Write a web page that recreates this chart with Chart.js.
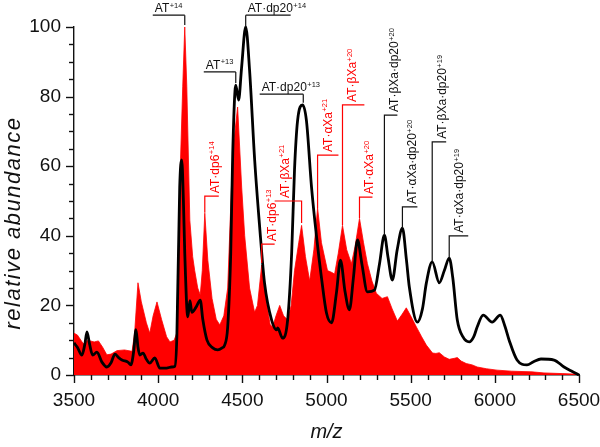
<!DOCTYPE html>
<html><head><meta charset="utf-8">
<script src="https://cdn.jsdelivr.net/npm/chart.js@4/dist/chart.umd.min.js"></script>
<style>html,body{margin:0;padding:0;background:#fff}#wrap{width:600px;height:447px;position:relative}</style>
</head><body><div id="wrap"><canvas id="c" width="600" height="447"></canvas></div>
<script>
// ---- data (m/z, relative abundance) ----
const redMz = [3500,3520,3555,3580,3620,3645,3670,3695,3720,3755,3800,3845,3860,3880,3900,3930,3950,3970,3993,4020,4050,4070,4095,4110,4128,4146,4158,4170,4188,4205,4217,4235,4250,4262,4277,4295,4320,4345,4366,4390,4413,4443,4472,4496,4514,4543,4573,4590,4615,4640,4665,4680,4700,4722,4745,4770,4790,4810,4835,4852,4875,4900,4925,4947,4970,5006,5030,5048,5070,5095,5120,5148,5170,5196,5220,5243,5270,5296,5330,5362,5390,5421,5450,5474,5500,5534,5565,5593,5630,5650,5670,5700,5729,5760,5777,5800,5830,5866,5895,5950,6013,6100,6221,6292,6400,6500];
const redAbundance = [12,11.5,9,10,9.5,9.8,8,5.8,6,7,7.2,6.8,12,26.5,21,15,12,17,21,16,11,9.5,10,12,54,83,100,83,44.5,34,30,25,23,30,46.5,33,22,16,14.4,17,25,64,77,54,40,25,18,20,31.6,22,14.5,13.8,17,20,17,15.8,20,30,38,43,34,27,36,48,38,30,29.5,29,35,43,36,32,37,45,38,32,27,23.5,22,22.5,19,15.5,17.5,19.3,17,13.8,11,8.6,6.3,6.2,6.4,5.2,4.5,4.8,5,4,3.3,2.9,2.3,1.8,1.4,1.1,0.9,0.6,0.4,0.2];
const blackMz = [3500,3520,3547,3565,3577,3592,3611,3636,3666,3695,3720,3743,3765,3785,3820,3838,3855,3868,3880,3891,3910,3930,3950,3980,4010,4050,4080,4099,4111,4128,4140,4150,4158,4176,4189,4200,4225,4250,4265,4290,4324,4354,4380,4395,4413,4431,4443,4461,4478,4495,4520,4543,4573,4603,4632,4674,4704,4710,4739,4769,4793,4810,4828,4858,4881,4911,4941,4970,5000,5030,5059,5083,5110,5136,5160,5184,5210,5243,5285,5315,5344,5365,5391,5420,5451,5475,5492,5540,5570,5593,5628,5670,5700,5729,5750,5777,5810,5848,5875,5895,5931,5984,6032,6060,6085,6132,6191,6230,6274,6352,6411,6460,6500];
const blackAbundance = [9.2,8,5.7,9,12.4,9,5.7,6.6,3.7,2.3,3.5,6,5,4.3,3.7,2.9,7,13,8,5.7,6.3,4.5,3.4,4.9,2,2,2.3,2.5,11,54,61.8,50,35,16.7,21.4,18,19.5,21.5,16,10,7.8,7.2,7.8,8.6,13.8,35,63.8,83.3,79,88,100,87.6,62,42.5,26.4,15.8,13,13.5,10.6,15.8,35,59,73,77.6,73,54,39.7,28,17.8,15,23.6,33,24,18.7,28,38.8,32,23.9,24.4,32,40.2,34,27.3,36,42.2,33,25.3,15.2,19,26.4,32.5,26.5,30,33.6,28,15.8,11,9.5,11,13.8,17.2,15.2,17.2,14,10,4.3,2.9,3.8,4.6,4.3,2.3,1,0];
const xTickLabels = [3500,4000,4500,5000,5500,6000,6500];
const yTickLabels = [0,20,40,60,80,100];

// ---- peak annotations (data coordinates) ----
const RED = '#ff0000', INK = '#111111';
const rotatedLabels = [
  {text:'AT·dp6', sup:'+14', color:RED, peak:4277, tip:46.6, level:51.4, end:4360},
  {text:'AT·dp6', sup:'+13', color:RED, peak:4615, tip:32.2, level:37.6, end:4692},
  {text:'AT·βXa', sup:'+21', color:RED, peak:4852, tip:43.7, level:50.0, end:4692},
  {text:'AT·αXa', sup:'+21', color:RED, peak:4947, tip:48.0, level:63.2, end:5071},
  {text:'AT·βXa', sup:'+20', color:RED, peak:5095, tip:43.1, level:77.6, end:5225},
  {text:'AT·αXa', sup:'+20', color:RED, peak:5196, tip:45.1, level:51.1, end:5273},
  {text:'AT·βXa·dp20', sup:'+20', color:INK, peak:5344, tip:40.2, level:74.7, end:5421},
  {text:'AT·αXa·dp20', sup:'+20', color:INK, peak:5451, tip:42.2, level:48.3, end:5540},
  {text:'AT·βXa·dp20', sup:'+19', color:INK, peak:5628, tip:32.5, level:67.0, end:5711},
  {text:'AT·αXa·dp20', sup:'+19', color:INK, peak:5729, tip:33.6, level:40.0, end:5842}
];
const topLabels = [
  {text:'AT', sup:'+14', x1:3968, x2:4158, level:103.4, tipX:4158, tip:100.6},
  {text:'AT·dp20', sup:'+14', x1:4520, x2:4787, level:103.4, tipX:4520, tip:100.0},
  {text:'AT', sup:'+13', x1:4271, x2:4461, level:87.1, tipX:4461, tip:83.9},
  {text:'AT·dp20', sup:'+13', x1:4603, x2:4862, level:80.7, tipX:4862, tip:78.2}
];

const FONT = '"Liberation Sans", Arial, Helvetica, sans-serif';

function drawSupText(ctx, main, sup, x, y, color) {
  ctx.fillStyle = color;
  ctx.textAlign = 'left';
  ctx.textBaseline = 'alphabetic';
  ctx.font = '12px ' + FONT;
  ctx.fillText(main, x, y);
  const w = ctx.measureText(main).width;
  ctx.font = '7.5px ' + FONT;
  ctx.fillText(sup, x + w + 0.5, y - 4.5);
}

const axisPlugin = {
  id: 'axisDecor',
  afterDraw(chart) {
    const ctx = chart.ctx, xs = chart.scales.x, ys = chart.scales.y;
    const bottom = ys.getPixelForValue(0), left = xs.getPixelForValue(3500);
    ctx.save();
    ctx.strokeStyle = INK; ctx.lineWidth = 1.4;
    for (let v = 3500; v <= 6500; v += 100) {
      const p = Math.round(xs.getPixelForValue(v)) + 0.5;
      const len = (v % 500 === 0) ? 8 : 5;
      ctx.beginPath(); ctx.moveTo(p, bottom); ctx.lineTo(p, bottom + len); ctx.stroke();
    }
    for (let v = 0; v <= 100; v += 5) {
      const p = Math.round(ys.getPixelForValue(v)) + 0.5;
      const len = (v % 20 === 0) ? 8 : 5;
      ctx.beginPath(); ctx.moveTo(left, p); ctx.lineTo(left - len, p); ctx.stroke();
    }
    // axis titles
    ctx.fillStyle = INK;
    ctx.textAlign = 'center'; ctx.textBaseline = 'middle';
    ctx.font = 'italic 20px ' + FONT;
    ctx.fillText('m/z', (xs.left + xs.right) / 2, 432);
    ctx.save();
    ctx.font = 'italic 22px ' + FONT;
    try { ctx.letterSpacing = '1.5px'; } catch (e) {}
    ctx.translate(14, 223); ctx.rotate(-Math.PI / 2);
    ctx.fillText('relative abundance', 0, 0);
    ctx.restore();

    // annotations
    ctx.lineWidth = 1.2;
    rotatedLabels.forEach(a => {
      const px = xs.getPixelForValue(a.peak), pe = xs.getPixelForValue(a.end);
      const pt = ys.getPixelForValue(a.tip), pl = ys.getPixelForValue(a.level);
      ctx.strokeStyle = a.color;
      ctx.beginPath(); ctx.moveTo(px, pt); ctx.lineTo(px, pl); ctx.lineTo(pe, pl); ctx.stroke();
      const lft = Math.min(px, pe);
      ctx.save();
      ctx.translate(lft + 14, pl - 3); ctx.rotate(-Math.PI / 2);
      drawSupText(ctx, a.text, a.sup, 0, 0, a.color);
      ctx.restore();
    });
    topLabels.forEach(a => {
      const p1 = xs.getPixelForValue(a.x1), p2 = xs.getPixelForValue(a.x2);
      const pl = ys.getPixelForValue(a.level), pt = ys.getPixelForValue(a.tip);
      const tx = xs.getPixelForValue(a.tipX);
      ctx.strokeStyle = INK;
      ctx.beginPath(); ctx.moveTo(p1, pl); ctx.lineTo(p2, pl); ctx.stroke();
      ctx.beginPath(); ctx.moveTo(tx, pl); ctx.lineTo(tx, pt); ctx.stroke();
      drawSupText(ctx, a.text, a.sup, p1 + 2, pl - 3, INK);
    });
    ctx.restore();
  }
};

new Chart(document.getElementById('c'), {
  type: 'line',
  data: {
    datasets: [
      { label: 'AT + heparin dp20', data: blackMz.map((x, i) => ({x, y: blackAbundance[i]})),
        borderColor: '#000', borderWidth: 2.8, pointRadius: 0, fill: false,
        cubicInterpolationMode: 'monotone', clip: 6, order: 0 },
      { label: 'AT', data: redMz.map((x, i) => ({x, y: redAbundance[i]})),
        borderColor: RED, borderWidth: 0.8, backgroundColor: RED, fill: 'origin',
        pointRadius: 0, tension: 0, clip: 6, order: 1 }
    ]
  },
  options: {
    responsive: false, animation: false, devicePixelRatio: 1,
    layout: { padding: { left: 0, right: 21, top: 27, bottom: 0 } },
    plugins: { legend: { display: false }, tooltip: { enabled: false } },
    scales: {
      x: {
        type: 'linear', min: 3500, max: 6500,
        grid: { display: false, drawTicks: false },
        border: { display: true, color: INK, width: 1.4 },
        afterBuildTicks: s => { s.ticks = xTickLabels.map(v => ({value: v})); },
        ticks: { padding: 14, color: INK, font: { family: FONT, size: 19 }, maxRotation: 0, autoSkip: false,
                 callback: v => String(v) },
        afterFit: s => { s.height = 72; s.paddingRight = 0; s.paddingLeft = 0; }
      },
      y: {
        type: 'linear', min: 0, max: 100,
        grid: { display: false, drawTicks: false },
        border: { display: true, color: INK, width: 1.4 },
        afterBuildTicks: s => { s.ticks = yTickLabels.map(v => ({value: v})); },
        ticks: { padding: 13, color: INK, font: { family: FONT, size: 19 }, callback: v => String(v) },
        afterFit: s => { s.width = 74; s.paddingTop = 0; s.paddingBottom = 0; }
      }
    }
  },
  plugins: [axisPlugin]
});
</script>
</body></html>
